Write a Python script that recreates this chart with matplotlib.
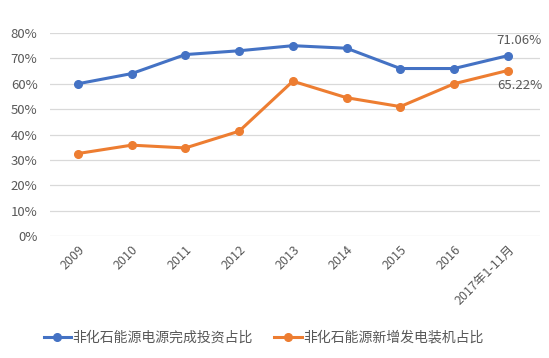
import matplotlib
matplotlib.use('Agg')
import matplotlib.pyplot as plt

plt.rcParams['font.family'] = ['Noto Sans CJK SC', 'DejaVu Sans']

years = ["2009", "2010", "2011", "2012", "2013", "2014", "2015", "2016", "2017年1-11月"]
invest_share = [60.0, 64.0, 71.5, 73.0, 75.0, 74.0, 66.0, 66.0, 71.06]
capacity_share = [32.5, 35.8, 34.7, 41.3, 61.0, 54.5, 51.0, 60.0, 65.22]

BLUE = "#4472C4"
ORANGE = "#ED7D31"
TEXT = "#595959"

fig = plt.figure(figsize=(5.49, 3.58), dpi=100)
ax = fig.add_axes([50 / 549, 1 - 236 / 358, 490 / 549, 203 / 358])

x = list(range(len(years)))
ax.plot(x, invest_share, color=BLUE, lw=2.2, marker="o", ms=5.5,
        label="非化石能源电源完成投资占比", zorder=3)
ax.plot(x, capacity_share, color=ORANGE, lw=2.2, marker="o", ms=5.5,
        label="非化石能源新增发电装机占比", zorder=3)

# end-point labels, shifted right like the original
ax.annotate(f"{invest_share[-1]:.2f}%", (x[-1], invest_share[-1]), xytext=(8, 6),
            textcoords="offset points", ha="center", va="bottom", fontsize=9.5, color=TEXT)
ax.annotate(f"{capacity_share[-1]:.2f}%", (x[-1], capacity_share[-1]), xytext=(9, -6),
            textcoords="offset points", ha="center", va="top", fontsize=9.5, color=TEXT)

ax.set_xlim(-0.52, 8.6)
ax.set_ylim(0, 80)
ax.set_yticks(range(0, 81, 10))
ax.set_yticklabels([f"{v}%" for v in range(0, 81, 10)], fontsize=9.5, color=TEXT)
ax.set_xticks(x)
ax.set_xticklabels(years, rotation=45, ha="right", rotation_mode="anchor",
                   fontsize=9, color=TEXT)
ax.grid(axis="y", color="#D9D9D9", lw=0.9)
ax.set_axisbelow(True)
ax.tick_params(axis="y", length=0, pad=9)
ax.tick_params(axis="x", length=0, pad=5)
for s in ax.spines.values():
    s.set_visible(False)

fig.legend(loc="center", bbox_to_anchor=(0.48, 1 - 338 / 358), ncol=2, frameon=False,
           fontsize=10, labelcolor=TEXT, handlelength=2.0, columnspacing=1.5,
           handletextpad=0.1)

fig.savefig("out.png", dpi=100)
